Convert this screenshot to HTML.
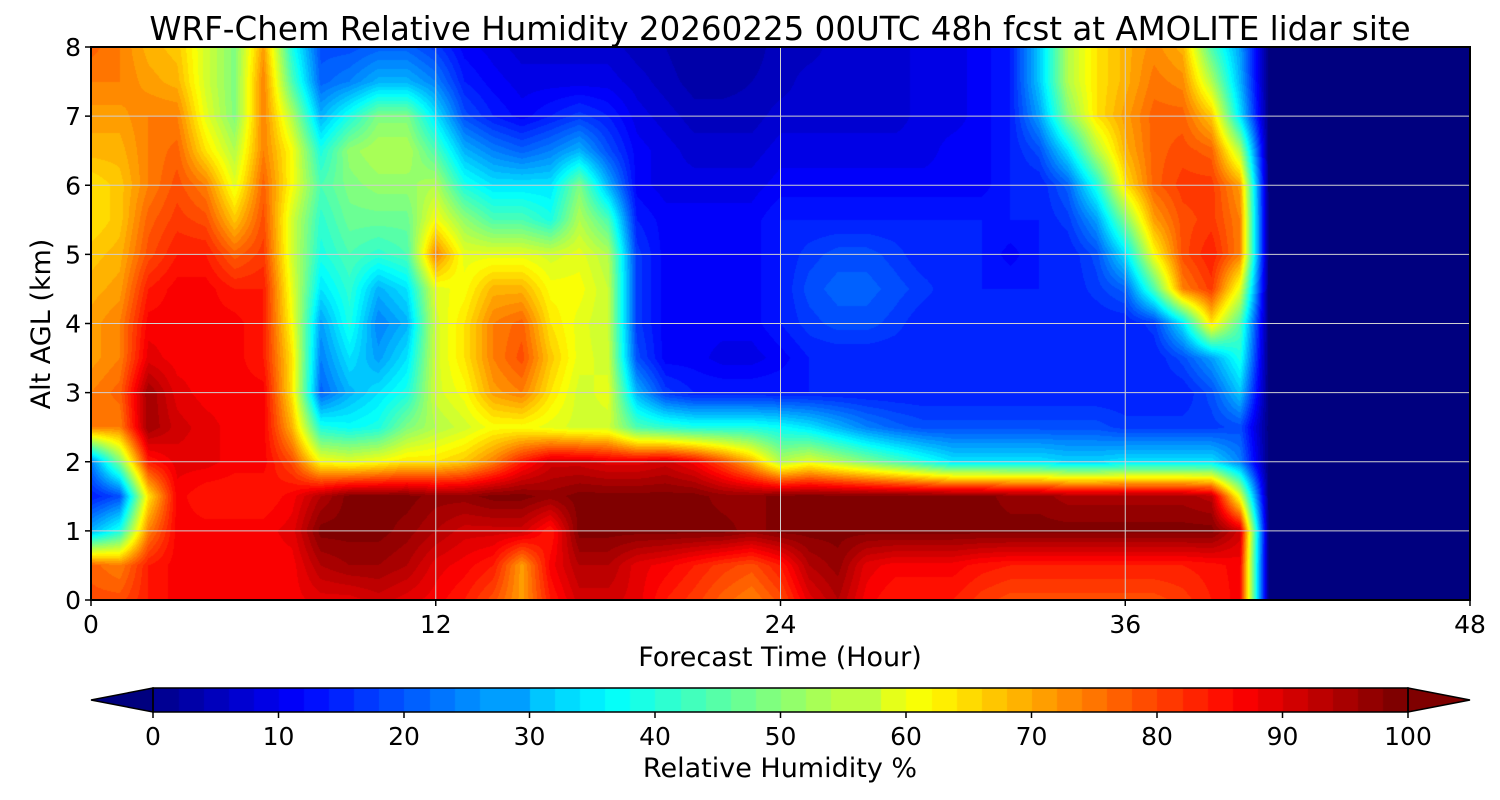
<!DOCTYPE html>
<html><head><meta charset="utf-8">
<style>
html,body{margin:0;padding:0;background:#fff;}
#wrap{position:relative;width:1500px;height:800px;overflow:hidden;font-family:"DejaVu Sans","Liberation Sans",sans-serif;}
canvas{position:absolute;}
svg{position:absolute;left:0;top:0;font-family:"DejaVu Sans","Liberation Sans",sans-serif;}
</style></head>
<body>
<div id="wrap">
<canvas id="hm" width="1379" height="553" style="left:91px;top:47px"></canvas>
<canvas id="cb" width="1255" height="24" style="left:153px;top:688px"></canvas>
<svg id="ov" width="1500" height="800"></svg>
</div>
<script>
// Forecast hours 0..48 (columns), altitudes 0..8 km every 0.5 km (rows)
const hours = [];
for (let h = 0; h <= 48; h++) hours.push(h);
const altitudes = [0,0.5,1,1.5,2,2.5,3,3.5,4,4.5,5,5.5,6,6.5,7,7.5,8];
const rh_0_0 = [80,80,85,88,88,88, 88,88,90,90,92,90, 88,85,80,72,85,92, 92,90,85,82,78,75, 80,90,95,88,85,85, 85,82,80,80,80,80, 80,80,82,85,88,0, 0,0,0,0,0,0,0];
const rh_0_5 = [78,75,85,88,88,88, 88,88,95,97,97,95, 90,88,85,72,88,95, 95,90,88,85,82,80, 85,95,98,90,88,88, 88,86,85,85,85,85, 85,85,85,86,88,0, 0,0,0,0,0,0,0];
const rh_1_0 = [30,40,75,88,88,88, 88,90,100,100,100,98, 95,92,92,92,85,100, 100,100,100,100,100,98, 100,100,100,100,100,100, 100,100,100,100,100,100, 100,100,100,100,92,0, 0,0,0,0,0,0,0];
const rh_1_5 = [15,20,65,88,85,85, 85,88,95,100,100,100, 98,98,100,100,98,100, 100,100,100,100,98,98, 100,100,100,100,100,100, 100,100,98,98,96,96, 96,96,96,94,60,0, 0,0,0,0,0,0,0];
const rh_2_0 = [25,50,85,90,90,88, 88,80,62,60,62,65, 65,68,75,85,92,92, 90,90,92,88,80,70, 55,60,55,50,45,40, 35,35,35,35,33,33, 35,35,35,35,25,0, 0,0,0,0,0,0,0];
const rh_2_5 = [75,75,97,92,90,88, 88,70,40,38,40,50, 55,58,62,62,60,58, 58,45,42,40,40,40, 38,35,30,25,22,20, 20,20,20,20,20,20, 18,18,18,18,20,0, 0,0,0,0,0,0,0];
const rh_3_0 = [75,78,97,90,88,88, 88,65,22,30,35,40, 58,62,72,75,65,58, 60,30,18,15,15,15, 15,15,15,15,15,15, 15,15,15,15,15,15, 15,15,15,20,32,0, 0,0,0,0,0,0,0];
const rh_3_5 = [72,75,90,88,88,88, 85,65,25,35,28,35, 58,65,75,80,68,60, 58,20,12,12,10,10, 12,15,15,15,15,15, 15,15,15,15,15,15, 15,15,20,28,40,0, 0,0,0,0,0,0,0];
const rh_4_0 = [72,75,88,88,88,88, 85,62,28,40,25,30, 58,65,75,78,65,60, 57,18,12,12,12,12, 15,18,20,20,18,15, 15,15,15,15,15,15, 15,18,35,65,45,0, 0,0,0,0,0,0,0];
const rh_4_5 = [70,72,85,88,88,85, 85,60,35,42,30,35, 60,62,70,70,62,62, 57,18,12,12,12,12, 15,20,22,22,20,18, 15,15,15,15,15,18, 22,45,75,82,60,0, 0,0,0,0,0,0,0];
const rh_5_0 = [68,70,80,85,85,78, 82,58,40,45,42,45, 75,60,60,60,58,60, 55,18,12,12,12,12, 15,18,20,20,18,15, 15,15,12,15,15,20, 35,62,80,85,75,0, 0,0,0,0,0,0,0];
const rh_5_5 = [65,68,78,82,80,68, 80,58,42,48,48,48, 62,52,45,45,40,55, 45,15,12,12,12,12, 15,15,15,15,15,15, 15,15,15,15,18,28, 50,72,80,82,75,0, 0,0,0,0,0,0,0];
const rh_6_0 = [65,68,75,80,75,60, 78,62,45,50,52,52, 55,40,35,35,35,50, 30,12,10,10,10,10, 12,12,12,12,12,12, 12,12,15,15,22,40, 65,78,82,82,72,0, 0,0,0,0,0,0,0];
const rh_6_5 = [70,70,75,78,65,55, 75,62,40,52,55,55, 45,30,25,22,25,30, 20,12,10,8,8,8, 10,10,10,10,10,10, 12,12,15,20,35,55, 70,78,80,78,55,0, 0,0,0,0,0,0,0];
const rh_7_0 = [72,72,75,75,60,50, 75,55,30,40,50,50, 35,20,15,12,15,18, 15,10,8,6,6,6, 8,8,8,8,8,10, 10,12,15,28,50,65, 72,78,78,68,35,0, 0,0,0,0,0,0,0];
const rh_7_5 = [75,75,72,70,58,50, 75,45,22,25,30,30, 25,15,12,10,10,10, 10,8,6,4,4,5, 6,8,8,8,8,10, 10,12,15,32,55,65, 70,76,74,55,30,0, 0,0,0,0,0,0,0];
const rh_8_0 = [78,75,70,68,58,50, 72,40,20,20,22,22, 18,12,10,8,8,8, 8,6,5,3,3,4, 6,6,8,8,8,10, 10,12,15,32,55,65, 70,74,70,45,28,0, 0,0,0,0,0,0,0];
const rhRows = [rh_0_0,rh_0_5,rh_1_0,rh_1_5,rh_2_0,rh_2_5,rh_3_0,rh_3_5,rh_4_0,rh_4_5,rh_5_0,rh_5_5,rh_6_0,rh_6_5,rh_7_0,rh_7_5,rh_8_0];
const xTicks = [0,12,24,36,48];
const yTicks = [0,1,2,3,4,5,6,7,8];
const cbTicks = [0,10,20,30,40,50,60,70,80,90,100];

const PL=91, PT=47, PW=1379, PH=553;
const xScale = h => PL + h/48*PW;
const yScale = a => PT + PH - a/8*PH;
function jet(v){
  if (v < 0) return [0,0,127];
  let t = Math.min(1, v/100);
  t = Math.round(t*50)/50;
  const c = x => Math.max(0, Math.min(1, x));
  return [c(1.5-Math.abs(4*t-3))*255, c(1.5-Math.abs(4*t-2))*255, c(1.5-Math.abs(4*t-1))*255];
}
function val(h, a){
  const hs = hours[1]-hours[0], as = altitudes[1]-altitudes[0];
  let i = Math.min(hours.length-2, Math.max(0, Math.floor((h-hours[0])/hs)));
  let j = Math.min(altitudes.length-2, Math.max(0, Math.floor((a-altitudes[0])/as)));
  const fx = Math.min(1,Math.max(0,(h-hours[i])/hs)), fy = Math.min(1,Math.max(0,(a-altitudes[j])/as));
  const r0 = rhRows[j], r1 = rhRows[j+1];
  const v0 = (r0[i]??0)*(1-fx)+(r0[i+1]??0)*fx;
  const v1 = (r1[i]??0)*(1-fx)+(r1[i+1]??0)*fx;
  return v0*(1-fy)+v1*fy;
}
(function(){
  const cv = document.getElementById('hm'), ctx = cv.getContext('2d');
  const img = ctx.createImageData(PW, PH);
  for (let y=0;y<PH;y++){
    const a = 8 - (y+0.5)/PH*8;
    for (let x=0;x<PW;x++){
      const h = (x+0.5)/PW*48;
      const v = val(h,a);
      const col = jet(v <= 0.5 ? -1 : v);
      const k=(y*PW+x)*4;
      img.data[k]=col[0]; img.data[k+1]=col[1]; img.data[k+2]=col[2]; img.data[k+3]=255;
    }
  }
  ctx.putImageData(img,0,0);
  const cb = document.getElementById('cb'), c2 = cb.getContext('2d');
  for (let x=0;x<1255;x++){
    const col = jet(Math.floor(x/1255*100/2)*2+1);
    c2.fillStyle = `rgb(${col[0]|0},${col[1]|0},${col[2]|0})`;
    c2.fillRect(x,0,1,24);
  }
})();
const NS='http://www.w3.org/2000/svg';
const svg=document.getElementById('ov');
function mk(tag, attrs, text){
  const e=document.createElementNS(NS,tag);
  for (const k in attrs) e.setAttribute(k, attrs[k]);
  if (text!==undefined) e.textContent=text;
  svg.appendChild(e); return e;
}
let e;
xTicks.forEach(t=>{
  const x=xScale(t);
  e=mk('line',{x1:x,x2:x,y1:PT,y2:PT+PH,stroke:'#d0d0d0','stroke-width':1});
  
  
  e=mk('line',{x1:x,x2:x,y1:PT+PH,y2:PT+PH+6,stroke:'#000','stroke-width':1.5});
  
  
  e=mk('text',{x:x,y:633,'text-anchor':'middle','font-size':25,fill:'#000'},String(t));
  
  
});
yTicks.forEach(t=>{
  const y=yScale(t);
  e=mk('line',{x1:PL,x2:PL+PW,y1:y,y2:y,stroke:'#d0d0d0','stroke-width':1});
  
  
  e=mk('line',{x1:PL-6,x2:PL,y1:y,y2:y,stroke:'#000','stroke-width':1.5});
  
  
  e=mk('text',{x:PL-10,y:y+9,'text-anchor':'end','font-size':25,fill:'#000'},String(t));
  
  
});
e=mk('rect',{x:PL,y:PT,width:PW,height:PH,fill:'none',stroke:'#000','stroke-width':2});


e=mk('text',{x:780,y:40,'text-anchor':'middle','font-size':32.5,fill:'#000'},'WRF-Chem Relative Humidity 20260225 00UTC 48h fcst at AMOLITE lidar site');


e=mk('text',{x:780,y:666,'text-anchor':'middle','font-size':27,fill:'#000'},'Forecast Time (Hour)');


e=mk('text',{x:0,y:0,'text-anchor':'middle','font-size':27,fill:'#000',transform:'translate(50,324) rotate(-90)'},'Alt AGL (km)');


e=mk('polygon',{points:'153,688 91,700 153,712',fill:'#00007f',stroke:'#000','stroke-width':1.5});


e=mk('polygon',{points:'1408,688 1470,700 1408,712',fill:'#7f0000',stroke:'#000','stroke-width':1.5});


e=mk('rect',{x:153,y:688,width:1255,height:24,fill:'none',stroke:'#000','stroke-width':1.5});


cbTicks.forEach(t=>{
  const x=153+t/100*1255;
  e=mk('line',{x1:x,x2:x,y1:712,y2:718,stroke:'#000','stroke-width':1.5});
  
  
  e=mk('text',{x:x,y:745,'text-anchor':'middle','font-size':25,fill:'#000'},String(t));
  
  
});
e=mk('text',{x:780,y:777,'text-anchor':'middle','font-size':27,fill:'#000'},'Relative Humidity %');


</script>
</body></html>
